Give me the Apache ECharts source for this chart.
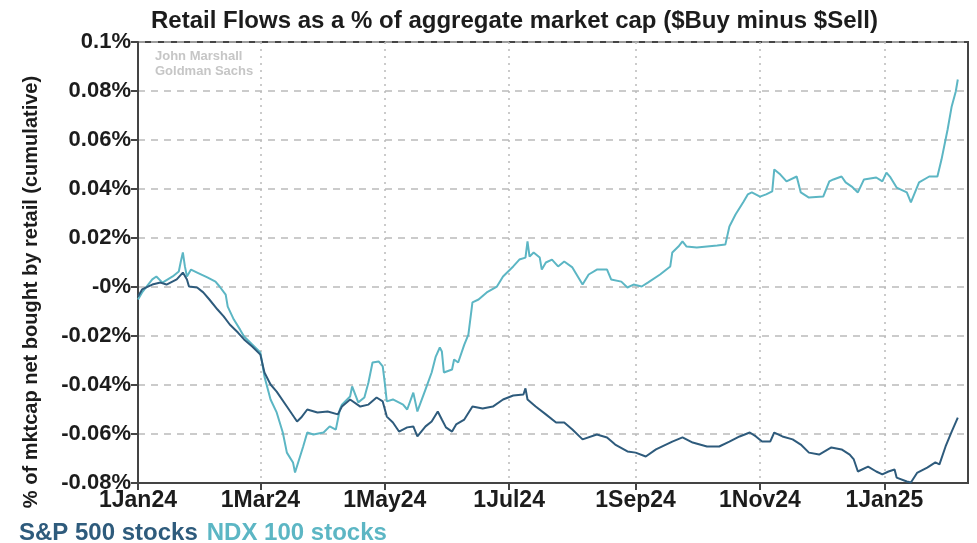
<!DOCTYPE html>
<html>
<head>
<meta charset="utf-8">
<title>Retail Flows</title>
<script src="https://cdn.jsdelivr.net/npm/echarts@6/dist/echarts.min.js"></script>
<style>
  html, body { margin: 0; padding: 0; background: #fff; }
  #chart { width: 977px; height: 543px; }
</style>
</head>
<body>
<div id="chart"></div>
<script>
// cumulative net retail buying, % of market cap
const spDates = [
  '2024-01-01', '2024-01-03', '2024-01-08', '2024-01-12', '2024-01-15', '2024-01-20', '2024-01-23', '2024-01-25',
  '2024-01-26', '2024-01-30', '2024-02-02', '2024-02-05', '2024-02-09', '2024-02-12', '2024-02-15', '2024-02-19',
  '2024-02-22', '2024-02-26', '2024-03-01', '2024-03-03', '2024-03-06', '2024-03-09', '2024-03-14', '2024-03-19',
  '2024-03-21', '2024-03-24', '2024-03-29', '2024-04-03', '2024-04-08', '2024-04-10', '2024-04-14', '2024-04-19',
  '2024-04-23', '2024-04-27', '2024-04-30', '2024-05-02', '2024-05-05', '2024-05-08', '2024-05-12', '2024-05-15',
  '2024-05-17', '2024-05-21', '2024-05-24', '2024-05-27', '2024-05-29', '2024-05-31', '2024-06-03', '2024-06-05',
  '2024-06-09', '2024-06-13', '2024-06-18', '2024-06-23', '2024-06-28', '2024-07-03', '2024-07-08', '2024-07-09',
  '2024-07-10', '2024-07-14', '2024-07-19', '2024-07-24', '2024-07-28', '2024-08-01', '2024-08-06', '2024-08-13',
  '2024-08-18', '2024-08-22', '2024-08-28', '2024-09-01', '2024-09-06', '2024-09-11', '2024-09-19', '2024-09-24',
  '2024-09-29', '2024-10-06', '2024-10-12', '2024-10-17', '2024-10-22', '2024-10-27', '2024-10-30', '2024-11-02',
  '2024-11-06', '2024-11-08', '2024-11-12', '2024-11-17', '2024-11-21', '2024-11-25', '2024-11-30', '2024-12-06',
  '2024-12-11', '2024-12-15', '2024-12-17', '2024-12-19', '2024-12-24', '2024-12-28', '2024-12-31', '2025-01-03',
  '2025-01-06', '2025-01-07', '2025-01-12', '2025-01-14', '2025-01-17', '2025-01-22', '2025-01-26', '2025-01-28',
  '2025-01-31', '2025-02-03', '2025-02-06'
]
const spValues = [
  -0.0039, -0.0010, 0.0010, 0.0018, 0.0010, 0.0031, 0.0059, 0.0031,
  0.0002, -0.0002, -0.0022, -0.0051, -0.0092, -0.0120, -0.0153, -0.0186,
  -0.0214, -0.0243, -0.0276, -0.0349, -0.0398, -0.0427, -0.0488, -0.0549,
  -0.0533, -0.0500, -0.0512, -0.0508, -0.0520, -0.0488, -0.0459, -0.0488,
  -0.0480, -0.0451, -0.0467, -0.0529, -0.0553, -0.0590, -0.0573, -0.0569,
  -0.0610, -0.0569, -0.0549, -0.0508, -0.0541, -0.0573, -0.0590, -0.0561,
  -0.0541, -0.0488, -0.0496, -0.0488, -0.0459, -0.0443, -0.0439, -0.0414,
  -0.0459, -0.0488, -0.0520, -0.0553, -0.0553, -0.0582, -0.0622, -0.0602,
  -0.0614, -0.0643, -0.0671, -0.0676, -0.0692, -0.0663, -0.0631, -0.0614,
  -0.0635, -0.0651, -0.0651, -0.0631, -0.0610, -0.0594, -0.0610, -0.0631,
  -0.0631, -0.0594, -0.0610, -0.0622, -0.0643, -0.0676, -0.0684, -0.0655,
  -0.0663, -0.0684, -0.0704, -0.0753, -0.0733, -0.0753, -0.0765, -0.0753,
  -0.0745, -0.0778, -0.0794, -0.0798, -0.0759, -0.0737, -0.0716, -0.0724,
  -0.0651, -0.0590, -0.0533
]

const ndxDates = [
  '2024-01-01', '2024-01-03', '2024-01-08', '2024-01-10', '2024-01-13', '2024-01-18', '2024-01-21', '2024-01-22',
  '2024-01-23', '2024-01-24', '2024-01-25', '2024-01-27', '2024-01-30', '2024-02-04', '2024-02-08', '2024-02-10',
  '2024-02-13', '2024-02-14', '2024-02-17', '2024-02-20', '2024-02-22', '2024-02-26', '2024-03-01', '2024-03-03',
  '2024-03-06', '2024-03-09', '2024-03-12', '2024-03-14', '2024-03-17', '2024-03-18', '2024-03-20', '2024-03-22',
  '2024-03-24', '2024-03-27', '2024-04-01', '2024-04-04', '2024-04-07', '2024-04-09', '2024-04-10', '2024-04-14',
  '2024-04-15', '2024-04-18', '2024-04-21', '2024-04-23', '2024-04-25', '2024-04-28', '2024-04-30', '2024-05-01',
  '2024-05-02', '2024-05-05', '2024-05-10', '2024-05-12', '2024-05-15', '2024-05-17', '2024-05-21', '2024-05-24',
  '2024-05-26', '2024-05-28', '2024-05-29', '2024-05-30', '2024-06-03', '2024-06-04', '2024-06-06', '2024-06-09',
  '2024-06-11', '2024-06-13', '2024-06-16', '2024-06-20', '2024-06-25', '2024-06-28', '2024-07-03', '2024-07-06',
  '2024-07-09', '2024-07-10', '2024-07-11', '2024-07-13', '2024-07-16', '2024-07-17', '2024-07-19', '2024-07-22',
  '2024-07-25', '2024-07-28', '2024-08-01', '2024-08-06', '2024-08-09', '2024-08-13', '2024-08-18', '2024-08-20',
  '2024-08-25', '2024-08-28', '2024-08-31', '2024-09-04', '2024-09-07', '2024-09-13', '2024-09-18', '2024-09-19',
  '2024-09-22', '2024-09-24', '2024-09-26', '2024-10-01', '2024-10-06', '2024-10-11', '2024-10-15', '2024-10-17',
  '2024-10-20', '2024-10-24', '2024-10-26', '2024-10-28', '2024-11-01', '2024-11-04', '2024-11-07', '2024-11-08',
  '2024-11-11', '2024-11-14', '2024-11-19', '2024-11-21', '2024-11-25', '2024-12-02', '2024-12-05', '2024-12-07',
  '2024-12-11', '2024-12-13', '2024-12-16', '2024-12-19', '2024-12-22', '2024-12-28', '2024-12-31', '2025-01-02',
  '2025-01-04', '2025-01-07', '2025-01-12', '2025-01-14', '2025-01-16', '2025-01-18', '2025-01-23', '2025-01-27',
  '2025-01-29', '2025-02-01', '2025-02-03', '2025-02-05', '2025-02-06'
]
const ndxValues = [
  -0.0051, -0.0022, 0.0031, 0.0043, 0.0018, 0.0043, 0.0063, 0.0104,
  0.0141, 0.0084, 0.0043, 0.0071, 0.0059, 0.0039, 0.0022, 0.0002,
  -0.0031, -0.0080, -0.0133, -0.0173, -0.0202, -0.0235, -0.0267, -0.0365,
  -0.0459, -0.0512, -0.0594, -0.0676, -0.0716, -0.0757, -0.0704, -0.0651,
  -0.0594, -0.0602, -0.0594, -0.0569, -0.0582, -0.0500, -0.0480, -0.0447,
  -0.0406, -0.0471, -0.0451, -0.0390, -0.0308, -0.0304, -0.0324, -0.0390,
  -0.0467, -0.0459, -0.0480, -0.0500, -0.0431, -0.0508, -0.0418, -0.0349,
  -0.0284, -0.0247, -0.0263, -0.0349, -0.0337, -0.0296, -0.0308, -0.0235,
  -0.0194, -0.0063, -0.0051, -0.0022, 0.0002, 0.0043, 0.0084, 0.0112,
  0.0120, 0.0186, 0.0124, 0.0141, 0.0120, 0.0071, 0.0100, 0.0112,
  0.0084, 0.0104, 0.0080, 0.0010, 0.0051, 0.0071, 0.0071, 0.0031,
  0.0022, -0.0002, 0.0010, 0.0002, 0.0018, 0.0051, 0.0084, 0.0141,
  0.0165, 0.0186, 0.0165, 0.0161, 0.0165, 0.0169, 0.0173, 0.0247,
  0.0296, 0.0349, 0.0378, 0.0386, 0.0369, 0.0378, 0.0390, 0.0480,
  0.0459, 0.0431, 0.0451, 0.0386, 0.0365, 0.0369, 0.0431, 0.0439,
  0.0451, 0.0427, 0.0410, 0.0386, 0.0439, 0.0447, 0.0431, 0.0467,
  0.0447, 0.0406, 0.0386, 0.0345, 0.0386, 0.0427, 0.0451, 0.0451,
  0.0520, 0.0643, 0.0737, 0.0798, 0.0847
]

const xTickDates = ['2024-01-01', '2024-03-01', '2024-05-01', '2024-07-01', '2024-09-01', '2024-11-01', '2025-01-01']
const xTickLabels = ['1Jan24', '1Mar24', '1May24', '1Jul24', '1Sep24', '1Nov24', '1Jan25']
const yTickValues = [-0.08, -0.06, -0.04, -0.02, 0, 0.02, 0.04, 0.06, 0.08, 0.1]
const yTickLabels = ['-0.08%', '-0.06%', '-0.04%', '-0.02%', '-0%', '0.02%', '0.04%', '0.06%', '0.08%', '0.1%']

const spColor = '#2e5b7c'
const ndxColor = '#5cb6c4'
const font = '"Liberation Sans", Arial, sans-serif'

const toTime = (d) => +echarts.time.parse(d)
const xTickTimes = xTickDates.map(toTime)

const chart = echarts.init(document.getElementById('chart'), null, { renderer: 'canvas' })

const option = {
  animation: false,
  title: {
    text: 'Retail Flows as a % of aggregate market cap ($Buy minus $Sell)',
    left: 146,
    top: 4,
    textStyle: { fontFamily: font, fontSize: 24, fontWeight: 'bold', color: '#1c1c1c' }
  },
  legend: {
    left: 9,
    top: 516,
    icon: 'rect',
    itemWidth: 0,
    itemHeight: 0,
    itemGap: 4,
    data: [
      { name: 'S&P 500 stocks', textStyle: { color: spColor } },
      { name: 'NDX 100 stocks', textStyle: { color: ndxColor } }
    ],
    textStyle: { fontFamily: font, fontSize: 24, fontWeight: 'bold' }
  },
  grid: {
    left: 138,
    right: 9,
    top: 42,
    bottom: 60,
    show: true,
    borderColor: '#444',
    borderWidth: 2
  },
  // time held as a plain value axis (ms) so the tick dates can be set by hand
  xAxis: {
    type: 'value',
    min: toTime('2024-01-01'),
    max: toTime('2025-02-11'),
    axisLine: { onZero: false, lineStyle: { color: '#444', width: 2 } },
    axisTick: {
      customValues: xTickTimes,
      length: 7,
      lineStyle: { color: '#444', width: 2 }
    },
    axisLabel: {
      customValues: xTickTimes,
      margin: 6,
      fontFamily: font,
      fontSize: 23,
      fontWeight: 'bold',
      color: '#1c1c1c',
      formatter: (val) => {
        const i = xTickTimes.indexOf(val)
        return i >= 0 ? xTickLabels[i] : ''
      }
    },
    splitLine: {
      show: true,
      lineStyle: { color: '#bbb', width: 1.5, type: [2, 5] }
    }
  },
  yAxis: {
    type: 'value',
    min: -0.08,
    max: 0.1,
    interval: 0.02,
    axisLine: { show: true, onZero: false, lineStyle: { color: '#444', width: 2 } },
    axisTick: { show: true, length: 7, lineStyle: { color: '#444', width: 2 } },
    axisLabel: {
      margin: 7,
      fontFamily: font,
      fontSize: 22,
      fontWeight: 'bold',
      color: '#1c1c1c',
      formatter: (val) => {
        const i = yTickValues.findIndex(v => Math.abs(v - val) < 1e-9)
        return i >= 0 ? yTickLabels[i] : ''
      }
    },
    splitLine: {
      show: true,
      lineStyle: { color: '#bbb', width: 1.5, type: [7, 6] }
    }
  },
  graphic: [
    {
      type: 'text',
      left: 155,
      top: 49,
      style: {
        text: 'John Marshall\nGoldman Sachs',
        fill: '#c6c6c6',
        font: 'bold 13px ' + font,
        lineHeight: 15
      }
    },
    {
      type: 'text',
      x: 31,
      y: 292,
      rotation: Math.PI / 2,
      style: {
        text: '% of mktcap net bought by retail (cumulative)',
        fill: '#1c1c1c',
        font: 'bold 20px ' + font,
        textAlign: 'center',
        textVerticalAlign: 'middle'
      }
    }
  ],
  series: [
    {
      name: 'S&P 500 stocks',
      type: 'line',
      data: spDates.map((d, i) => [toTime(d), spValues[i]]),
      showSymbol: false,
      lineStyle: { color: spColor, width: 2 },
      itemStyle: { color: spColor },
      z: 3
    },
    {
      name: 'NDX 100 stocks',
      type: 'line',
      data: ndxDates.map((d, i) => [toTime(d), ndxValues[i]]),
      showSymbol: false,
      lineStyle: { color: ndxColor, width: 2 },
      itemStyle: { color: ndxColor },
      z: 2
    }
  ]
}

chart.setOption(option)

window.addEventListener('resize', () => chart.resize())
</script>
</body>
</html>
